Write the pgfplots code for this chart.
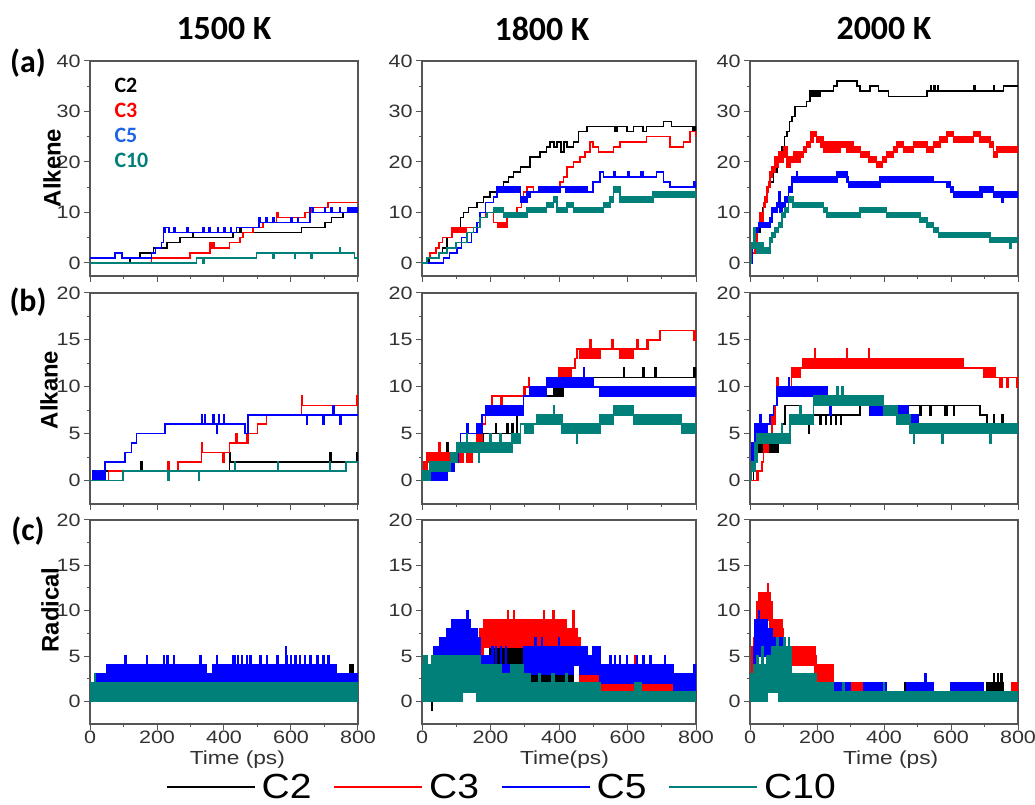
\documentclass[border=0pt]{standalone}
\usepackage{pgfplots}
\pgfplotsset{compat=1.18}
\usepackage{pgfplotstable}
\usepackage{fontspec}
\setmainfont{Liberation Sans}
\newfontfamily\carl{Carlito}
\newfontfamily\tickfont[FakeStretch=1.2]{Liberation Sans}
\newfontfamily\legfont[FakeStretch=1.12]{Liberation Sans}
\definecolor{cR}{RGB}{255,0,0}
\definecolor{cB}{RGB}{0,0,255}
\definecolor{cT}{RGB}{0,128,120}
\definecolor{cLB}{RGB}{30,100,230}
\definecolor{framecol}{RGB}{85,85,85}
\definecolor{tickcol}{RGB}{50,50,50}
\newcommand\ticksz{\tickfont\fontsize{18}{20}\selectfont}
\newcommand\labsz{\tickfont\fontsize{19}{21}\selectfont}
\newcommand\legsz{\legfont\fontsize{35}{40}\selectfont}

% each table: upper envelope (steps), back along a baseline below the axis, lower envelope;
% filled with the even-odd rule so only the band between the two envelopes is coloured
\newcommand\ser[2]{\addplot[const plot, draw=#2, fill=#2, even odd rule, line width=1.6pt] table {#1};}

\pgfplotsset{
  panel/.style={scale only axis, xmin=0, xmax=800, xtick={0,200,400,600,800},
    minor x tick num=1, minor y tick num=1,
    axis line style={draw=framecol, line width=1.2pt},
    tick style={draw=framecol, line width=1pt},
    major tick length=6bp, minor tick length=3.5bp,
    tick align=outside, tick pos=left,
    tick label style={font=\ticksz, text=tickcol},
    xticklabel style={yshift=3bp},
    /pgf/number format/assume math mode=true,
    anchor=south west},
  rowA/.style={ymin=-2.6, ymax=40, ytick={0,10,20,30,40}, height=215bp, xticklabels={}},
  rowB/.style={ymin=-2.5, ymax=20, ytick={0,5,10,15,20}, height=211bp, xticklabels={}},
  rowC/.style={ymin=-2.5, ymax=20, ytick={0,5,10,15,20}, height=204bp,
    xlabel style={font=\labsz, text=tickcol, anchor=center, yshift=-36bp}},
}

% ===== (a) 1500 K alkene
\pgfplotstableread[row sep=\\]{x y\\ -10 -5\\ -10 0\\ 120 1\\ 150 2\\ 189 3\\ 229 4\\ 268 5\\ 306 6\\ 309 5\\ 427 6\\ 447 7\\ 450 6\\ 631 7\\ 701 8\\ 721 9\\ 755 10\\ 800 10\\ 810 10\\ 810 -5\\
 -10 -5\\ -10 0\\ 120 1\\ 150 2\\ 189 3\\ 229 4\\ 268 5\\ 306 6\\ 309 5\\ 427 6\\ 631 7\\ 701 8\\ 721 9\\ 755 10\\ 800 10\\ 810 10\\ 810 -5\\}\AiK
\pgfplotstableread[row sep=\\]{x y\\ -10 -5\\ -10 0\\ 184 1\\ 298 2\\ 358 4\\ 362 3\\ 368 4\\ 372 3\\ 417 4\\ 447 5\\ 457 6\\ 487 7\\ 517 8\\ 557 10\\ 561 9\\ 641 10\\ 660 11\\ 711 12\\ 800 12\\ 810 12\\ 810 -5\\
 -10 -5\\ -10 0\\ 184 1\\ 298 2\\ 358 3\\ 417 4\\ 447 5\\ 457 6\\ 487 7\\ 517 8\\ 557 9\\ 641 10\\ 660 11\\ 711 12\\ 800 12\\ 810 12\\ 810 -5\\}\AiR
\pgfplotstableread[row sep=\\]{x y\\ -10 -5\\ -10 1\\ 75 2\\ 95 1\\ 184 2\\ 195 3\\ 213 4\\ 219 7\\ 235 6\\ 250 7\\ 253 6\\ 290 7\\ 293 6\\ 338 7\\ 342 6\\ 356 7\\ 360 6\\ 380 7\\ 384 6\\ 400 7\\ 404 6\\ 420 7\\ 423 6\\ 437 7\\ 505 9\\ 509 8\\ 525 9\\ 528 8\\ 545 9\\ 549 8\\ 600 9\\ 603 8\\ 620 9\\ 623 8\\ 656 11\\ 666 10\\ 700 11\\ 703 10\\ 720 11\\ 723 10\\ 745 11\\ 748 10\\ 770 11\\ 800 11\\ 810 11\\ 810 -5\\
 -10 -5\\ -10 1\\ 75 2\\ 95 1\\ 184 2\\ 195 3\\ 213 4\\ 219 6\\ 225 7\\ 235 6\\ 437 7\\ 505 8\\ 656 11\\ 666 10\\ 800 10\\ 810 10\\ 810 -5\\}\AiB
\pgfplotstableread[row sep=\\]{x y\\ -10 -5\\ -10 0\\ 318 1\\ 497 2\\ 745 3\\ 748 2\\ 790 1\\ 800 1\\ 810 1\\ 810 -5\\
 -10 -5\\ -10 0\\ 318 1\\ 338 0\\ 341 1\\ 497 2\\ 547 1\\ 549 2\\ 610 1\\ 612 2\\ 660 1\\ 663 2\\ 790 1\\ 800 1\\ 810 1\\ 810 -5\\}\AiT
% ===== 1800 K alkene
\pgfplotstableread[row sep=\\]{x y\\ -10 -5\\ -10 0\\ 20 1\\ 49 2\\ 60 3\\ 73 5\\ 87 6\\ 100 7\\ 112 9\\ 121 10\\ 136 11\\ 160 12\\ 180 13\\ 199 14\\ 220 15\\ 238 16\\ 253 17\\ 267 18\\ 287 19\\ 316 21\\ 345 22\\ 364 23\\ 374 24\\ 385 23\\ 395 24\\ 405 22\\ 415 24\\ 423 23\\ 442 24\\ 457 26\\ 481 27\\ 564 26\\ 570 27\\ 598 26\\ 617 27\\ 646 26\\ 656 27\\ 705 28\\ 729 27\\ 800 27\\ 810 27\\ 810 -5\\
 -10 -5\\ -10 0\\ 20 1\\ 49 2\\ 60 3\\ 73 5\\ 87 6\\ 100 7\\ 112 9\\ 121 10\\ 136 11\\ 160 12\\ 180 13\\ 199 14\\ 220 15\\ 238 16\\ 253 17\\ 267 18\\ 287 19\\ 316 21\\ 345 22\\ 364 23\\ 374 24\\ 385 23\\ 395 24\\ 405 22\\ 415 24\\ 423 23\\ 442 24\\ 457 26\\ 481 27\\ 564 26\\ 570 27\\ 598 26\\ 617 27\\ 646 26\\ 656 27\\ 705 28\\ 729 27\\ 790 26\\ 800 26\\ 810 26\\ 810 -5\\}\AiiK
\pgfplotstableread[row sep=\\]{x y\\ -10 -5\\ -10 0\\ 15 1\\ 24 2\\ 40 3\\ 49 4\\ 60 5\\ 87 7\\ 160 8\\ 170 9\\ 185 10\\ 209 8\\ 248 10\\ 277 11\\ 290 13\\ 296 14\\ 306 15\\ 326 14\\ 403 16\\ 413 17\\ 423 19\\ 442 20\\ 462 21\\ 476 22\\ 491 24\\ 500 23\\ 515 22\\ 559 23\\ 578 24\\ 656 25\\ 724 23\\ 763 24\\ 782 26\\ 800 26\\ 810 26\\ 810 -5\\
 -10 -5\\ -10 0\\ 15 1\\ 24 2\\ 40 3\\ 49 4\\ 60 5\\ 87 6\\ 130 7\\ 160 8\\ 170 9\\ 185 10\\ 209 8\\ 220 7\\ 248 10\\ 277 11\\ 290 13\\ 296 14\\ 306 15\\ 326 14\\ 403 16\\ 413 17\\ 423 19\\ 442 20\\ 462 21\\ 476 22\\ 491 24\\ 500 23\\ 515 22\\ 559 23\\ 578 24\\ 656 25\\ 724 23\\ 763 24\\ 782 26\\ 800 25\\ 810 25\\ 810 -5\\}\AiiR
\pgfplotstableread[row sep=\\]{x y\\ -10 -5\\ -10 0\\ 63 1\\ 80 2\\ 102 3\\ 115 5\\ 130 4\\ 145 6\\ 160 8\\ 170 10\\ 185 12\\ 209 13\\ 219 15\\ 287 13\\ 306 14\\ 340 15\\ 481 14\\ 500 16\\ 520 18\\ 530 17\\ 560 18\\ 563 17\\ 600 18\\ 604 17\\ 640 18\\ 645 17\\ 685 18\\ 705 16\\ 724 15\\ 795 16\\ 800 16\\ 810 16\\ 810 -5\\
 -10 -5\\ -10 0\\ 63 1\\ 80 2\\ 102 3\\ 115 5\\ 130 4\\ 145 6\\ 160 8\\ 170 10\\ 185 12\\ 209 13\\ 219 14\\ 287 12\\ 306 13\\ 316 14\\ 403 15\\ 420 14\\ 500 16\\ 520 18\\ 530 17\\ 685 18\\ 705 16\\ 724 15\\ 800 15\\ 810 15\\ 810 -5\\}\AiiB
\pgfplotstableread[row sep=\\]{x y\\ -10 -5\\ -10 0\\ 15 1\\ 50 2\\ 73 3\\ 100 4\\ 131 6\\ 150 7\\ 170 9\\ 190 10\\ 209 11\\ 238 10\\ 306 11\\ 364 12\\ 384 13\\ 394 11\\ 423 12\\ 442 11\\ 530 12\\ 549 13\\ 559 15\\ 578 13\\ 675 14\\ 800 14\\ 810 14\\ 810 -5\\
 -10 -5\\ -10 0\\ 15 1\\ 50 2\\ 73 3\\ 100 4\\ 131 6\\ 150 7\\ 170 9\\ 190 10\\ 238 9\\ 306 10\\ 364 11\\ 384 12\\ 394 10\\ 423 11\\ 442 10\\ 530 11\\ 549 12\\ 559 14\\ 578 12\\ 675 13\\ 800 13\\ 810 13\\ 810 -5\\}\AiiT
% ===== 2000 K alkene
\pgfplotstableread[row sep=\\]{x y\\ -10 -5\\ -10 0\\ 8 2\\ 15 4\\ 22 6\\ 30 9\\ 37 11\\ 45 13\\ 52 15\\ 60 16\\ 70 18\\ 80 20\\ 88 22\\ 95 23\\ 103 25\\ 110 26\\ 118 28\\ 125 29\\ 134 31\\ 169 32\\ 179 34\\ 249 35\\ 259 36\\ 319 35\\ 329 34\\ 359 35\\ 383 34\\ 413 33\\ 528 34\\ 540 35\\ 542 34\\ 550 35\\ 552 34\\ 560 35\\ 562 34\\ 667 35\\ 672 34\\ 727 35\\ 730 34\\ 757 35\\ 800 35\\ 810 35\\ 810 -5\\
 -10 -5\\ -10 0\\ 8 2\\ 15 4\\ 22 6\\ 30 9\\ 37 11\\ 45 13\\ 52 15\\ 60 16\\ 70 18\\ 80 20\\ 88 22\\ 95 23\\ 103 25\\ 110 26\\ 118 28\\ 125 29\\ 134 31\\ 169 32\\ 179 33\\ 209 34\\ 249 35\\ 259 36\\ 319 35\\ 329 34\\ 359 35\\ 383 34\\ 413 33\\ 528 34\\ 727 35\\ 730 34\\ 757 35\\ 800 35\\ 810 35\\ 810 -5\\}\AiiiK
\pgfplotstableread[row sep=\\]{x y\\ -10 -5\\ -10 0\\ 8 2\\ 15 4\\ 20 6\\ 25 8\\ 30 10\\ 40 12\\ 45 13\\ 50 15\\ 55 16\\ 60 18\\ 65 19\\ 75 21\\ 85 22\\ 100 23\\ 110 21\\ 130 22\\ 160 23\\ 169 24\\ 180 26\\ 199 25\\ 219 24\\ 309 23\\ 330 22\\ 355 21\\ 378 20\\ 395 21\\ 408 22\\ 428 23\\ 438 24\\ 458 23\\ 488 24\\ 528 23\\ 548 24\\ 568 25\\ 588 26\\ 608 25\\ 667 26\\ 687 25\\ 717 24\\ 727 22\\ 737 23\\ 800 23\\ 810 23\\ 810 -5\\
 -10 -5\\ -10 0\\ 8 2\\ 15 4\\ 20 6\\ 25 7\\ 30 8\\ 40 11\\ 45 12\\ 50 14\\ 55 15\\ 60 17\\ 65 18\\ 75 19\\ 85 20\\ 100 21\\ 110 19\\ 120 20\\ 149 21\\ 160 22\\ 169 23\\ 180 24\\ 189 25\\ 199 24\\ 210 23\\ 219 22\\ 270 23\\ 290 22\\ 330 21\\ 355 20\\ 378 19\\ 395 20\\ 408 21\\ 428 22\\ 438 23\\ 458 22\\ 488 23\\ 528 22\\ 548 23\\ 568 24\\ 588 25\\ 608 24\\ 667 25\\ 687 24\\ 717 23\\ 727 21\\ 737 22\\ 800 22\\ 810 22\\ 810 -5\\}\AiiiR
\pgfplotstableread[row sep=\\]{x y\\ -10 -5\\ -10 0\\ 8 3\\ 15 7\\ 25 8\\ 60 9\\ 65 11\\ 80 12\\ 85 14\\ 90 11\\ 95 12\\ 105 13\\ 115 15\\ 125 17\\ 139 18\\ 142 17\\ 259 18\\ 289 17\\ 294 16\\ 388 17\\ 548 16\\ 598 15\\ 608 14\\ 687 15\\ 727 14\\ 800 14\\ 810 14\\ 810 -5\\
 -10 -5\\ -10 0\\ 8 3\\ 15 6\\ 25 7\\ 60 8\\ 65 10\\ 80 11\\ 85 13\\ 90 10\\ 95 11\\ 105 12\\ 115 14\\ 125 16\\ 259 17\\ 289 16\\ 294 15\\ 388 16\\ 588 15\\ 598 14\\ 608 13\\ 692 14\\ 727 13\\ 752 12\\ 756 13\\ 800 13\\ 810 13\\ 810 -5\\}\AiiiB
\pgfplotstableread[row sep=\\]{x y\\ -10 -5\\ -10 0\\ 5 4\\ 10 7\\ 15 4\\ 40 3\\ 60 5\\ 65 6\\ 75 7\\ 85 8\\ 95 10\\ 105 11\\ 115 13\\ 129 12\\ 219 11\\ 229 10\\ 329 11\\ 408 10\\ 508 9\\ 528 8\\ 548 7\\ 563 6\\ 717 5\\ 800 5\\ 810 5\\ 810 -5\\
 -10 -5\\ -10 0\\ 5 3\\ 10 5\\ 15 3\\ 20 2\\ 60 4\\ 65 5\\ 75 6\\ 85 7\\ 95 9\\ 105 10\\ 115 12\\ 129 11\\ 219 10\\ 229 9\\ 329 10\\ 408 9\\ 508 8\\ 528 7\\ 548 6\\ 563 5\\ 717 4\\ 777 3\\ 780 4\\ 800 4\\ 810 4\\ 810 -5\\}\AiiiT
% ===== (b) 1500 K alkane
\pgfplotstableread[row sep=\\]{x y\\ -10 -5\\ -10 0\\ 10 1\\ 153 2\\ 155 1\\ 417 3\\ 420 2\\ 717 3\\ 720 2\\ 795 3\\ 800 3\\ 810 3\\ 810 -5\\
 -10 -5\\ -10 0\\ 40 1\\ 417 2\\ 800 2\\ 810 2\\ 810 -5\\}\BiK
\pgfplotstableread[row sep=\\]{x y\\ -10 -5\\ -10 0\\ 20 1\\ 25 0\\ 55 1\\ 233 2\\ 235 1\\ 263 2\\ 333 4\\ 336 3\\ 417 4\\ 436 5\\ 438 4\\ 468 5\\ 470 4\\ 472 5\\ 500 6\\ 527 7\\ 631 9\\ 634 8\\ 795 9\\ 800 9\\ 810 9\\ 810 -5\\
 -10 -5\\ -10 0\\ 55 1\\ 263 2\\ 333 3\\ 397 2\\ 400 3\\ 417 4\\ 472 5\\ 500 6\\ 527 7\\ 631 8\\ 800 8\\ 810 8\\ 810 -5\\}\BiR
\pgfplotstableread[row sep=\\]{x y\\ -10 -5\\ -10 0\\ 8 1\\ 45 2\\ 104 3\\ 124 4\\ 139 5\\ 224 6\\ 333 7\\ 335 6\\ 343 7\\ 345 6\\ 368 7\\ 370 6\\ 383 7\\ 385 6\\ 398 7\\ 400 6\\ 462 5\\ 472 7\\ 726 8\\ 728 7\\ 800 7\\ 810 7\\ 810 -5\\
 -10 -5\\ -10 0\\ 45 2\\ 104 3\\ 124 4\\ 139 5\\ 224 6\\ 378 5\\ 380 6\\ 462 5\\ 472 7\\ 646 6\\ 648 7\\ 696 6\\ 698 7\\ 746 6\\ 750 7\\ 800 7\\ 810 7\\ 810 -5\\}\BiB
\pgfplotstableread[row sep=\\]{x y\\ -10 -5\\ -10 0\\ 99 1\\ 431 2\\ 433 1\\ 561 2\\ 563 1\\ 716 2\\ 718 1\\ 765 2\\ 800 2\\ 810 2\\ 810 -5\\
 -10 -5\\ -10 0\\ 99 1\\ 233 0\\ 236 1\\ 325 0\\ 327 1\\ 765 2\\ 800 2\\ 810 2\\ 810 -5\\}\BiT
% ===== 1800 K alkane
\pgfplotstableread[row sep=\\]{x y\\ -10 -5\\ -10 1\\ 24 3\\ 73 4\\ 76 3\\ 141 4\\ 180 5\\ 214 6\\ 217 5\\ 248 6\\ 251 5\\ 262 6\\ 265 5\\ 277 7\\ 287 8\\ 296 9\\ 384 10\\ 462 11\\ 588 12\\ 591 11\\ 646 12\\ 649 11\\ 680 12\\ 683 11\\ 795 12\\ 800 12\\ 810 12\\ 810 -5\\
 -10 -5\\ -10 0\\ 24 2\\ 73 3\\ 141 4\\ 180 5\\ 277 7\\ 287 8\\ 296 9\\ 413 10\\ 462 11\\ 800 11\\ 810 11\\ 810 -5\\}\BiiK
\pgfplotstableread[row sep=\\]{x y\\ -10 -5\\ -10 0\\ 5 2\\ 15 3\\ 49 4\\ 52 3\\ 160 5\\ 175 6\\ 185 7\\ 199 8\\ 204 9\\ 296 10\\ 311 11\\ 313 10\\ 369 11\\ 398 12\\ 447 13\\ 452 14\\ 491 15\\ 494 14\\ 554 15\\ 557 14\\ 627 15\\ 630 14\\ 656 15\\ 695 16\\ 800 16\\ 810 16\\ 810 -5\\
 -10 -5\\ -10 0\\ 5 1\\ 15 2\\ 121 3\\ 131 2\\ 146 3\\ 160 4\\ 175 6\\ 185 7\\ 199 8\\ 204 9\\ 230 8\\ 233 9\\ 301 10\\ 369 11\\ 437 12\\ 447 13\\ 452 14\\ 462 13\\ 520 14\\ 578 13\\ 617 14\\ 661 15\\ 695 16\\ 795 15\\ 800 15\\ 810 15\\ 810 -5\\}\BiiR
\pgfplotstableread[row sep=\\]{x y\\ -10 -5\\ -10 1\\ 73 2\\ 95 3\\ 105 4\\ 112 5\\ 131 6\\ 135 5\\ 160 6\\ 175 7\\ 185 8\\ 296 9\\ 316 10\\ 364 11\\ 471 12\\ 474 11\\ 500 10\\ 800 10\\ 810 10\\ 810 -5\\
 -10 -5\\ -10 0\\ 73 1\\ 95 2\\ 105 4\\ 112 5\\ 175 7\\ 296 9\\ 364 10\\ 520 9\\ 800 9\\ 810 9\\ 810 -5\\}\BiiB
\pgfplotstableread[row sep=\\]{x y\\ -10 -5\\ -10 1\\ 24 2\\ 83 3\\ 102 4\\ 131 5\\ 133 4\\ 199 5\\ 201 4\\ 228 5\\ 230 4\\ 262 5\\ 287 6\\ 335 7\\ 384 8\\ 386 7\\ 408 6\\ 520 7\\ 559 8\\ 617 7\\ 758 6\\ 800 6\\ 810 6\\ 810 -5\\
 -10 -5\\ -10 0\\ 24 1\\ 83 2\\ 102 3\\ 165 2\\ 167 3\\ 262 4\\ 287 6\\ 300 5\\ 326 6\\ 408 5\\ 452 4\\ 454 5\\ 520 6\\ 559 7\\ 617 6\\ 758 5\\ 800 5\\ 810 5\\ 810 -5\\}\BiiT
% ===== 2000 K alkane
\pgfplotstableread[row sep=\\]{x y\\ -10 -5\\ -10 0\\ 10 2\\ 15 4\\ 85 5\\ 95 6\\ 105 8\\ 149 7\\ 329 8\\ 687 7\\ 707 6\\ 727 7\\ 730 6\\ 752 7\\ 755 6\\ 800 6\\ 810 6\\ 810 -5\\
 -10 -5\\ -10 0\\ 10 2\\ 15 3\\ 85 4\\ 95 6\\ 105 8\\ 149 7\\ 160 6\\ 163 7\\ 175 5\\ 178 7\\ 209 6\\ 212 7\\ 225 6\\ 228 7\\ 240 6\\ 243 7\\ 255 6\\ 258 7\\ 270 6\\ 273 7\\ 329 8\\ 508 7\\ 511 8\\ 538 7\\ 541 8\\ 580 7\\ 588 8\\ 608 7\\ 611 8\\ 687 7\\ 707 6\\ 800 6\\ 810 6\\ 810 -5\\}\BiiiK
\pgfplotstableread[row sep=\\]{x y\\ -10 -5\\ -10 0\\ 20 1\\ 35 2\\ 40 4\\ 55 5\\ 65 7\\ 75 8\\ 80 11\\ 83 9\\ 85 10\\ 124 12\\ 159 13\\ 194 14\\ 196 13\\ 289 14\\ 291 13\\ 354 14\\ 356 13\\ 637 12\\ 732 11\\ 800 10\\ 810 10\\ 810 -5\\
 -10 -5\\ -10 0\\ 25 1\\ 35 2\\ 40 3\\ 55 5\\ 65 6\\ 75 8\\ 80 9\\ 115 10\\ 124 11\\ 149 12\\ 697 11\\ 747 10\\ 752 11\\ 767 10\\ 772 11\\ 795 10\\ 800 10\\ 810 10\\ 810 -5\\}\BiiiR
\pgfplotstableread[row sep=\\]{x y\\ -10 -5\\ -10 0\\ 5 4\\ 15 6\\ 30 7\\ 33 6\\ 60 7\\ 70 8\\ 80 10\\ 115 11\\ 118 10\\ 229 8\\ 473 7\\ 503 6\\ 800 6\\ 810 6\\ 810 -5\\
 -10 -5\\ -10 0\\ 5 2\\ 15 5\\ 50 6\\ 60 7\\ 70 8\\ 80 9\\ 229 8\\ 239 7\\ 242 8\\ 359 7\\ 398 8\\ 438 7\\ 473 6\\ 503 5\\ 800 5\\ 810 5\\ 810 -5\\}\BiiiB
\pgfplotstableread[row sep=\\]{x y\\ -10 -5\\ -10 0\\ 5 2\\ 15 4\\ 20 5\\ 94 6\\ 97 5\\ 120 7\\ 149 8\\ 152 7\\ 189 9\\ 259 10\\ 262 9\\ 274 10\\ 277 9\\ 398 8\\ 438 7\\ 478 6\\ 800 6\\ 810 6\\ 810 -5\\
 -10 -5\\ -10 0\\ 5 1\\ 15 2\\ 20 4\\ 120 6\\ 189 8\\ 398 7\\ 438 6\\ 478 5\\ 488 4\\ 491 5\\ 573 4\\ 576 5\\ 717 4\\ 720 5\\ 800 5\\ 810 5\\ 810 -5\\}\BiiiT
% ===== (c) 1500 K radical
\pgfplotstableread[row sep=\\]{x y\\ -10 -5\\ -10 2\\ 691 3\\ 694 2\\ 775 4\\ 785 2\\ 800 2\\ 810 2\\ 810 -5\\
 -10 -5\\ -10 0\\ 800 0\\ 810 0\\ 810 -5\\}\CiK
\pgfplotstableread[row sep=\\]{x y\\ -10 -5\\ -10 2\\ 413 4\\ 415 2\\ 676 5\\ 679 2\\ 800 2\\ 810 2\\ 810 -5\\
 -10 -5\\ -10 0\\ 800 0\\ 810 0\\ 810 -5\\}\CiR
\pgfplotstableread[row sep=\\]{x y\\ -10 -5\\ -10 2\\ 15 3\\ 50 4\\ 104 5\\ 107 4\\ 169 5\\ 172 4\\ 219 5\\ 222 4\\ 229 5\\ 232 4\\ 249 5\\ 252 4\\ 328 5\\ 331 4\\ 348 3\\ 368 4\\ 378 5\\ 381 4\\ 427 5\\ 433 4\\ 440 5\\ 443 4\\ 452 5\\ 455 4\\ 467 5\\ 470 4\\ 478 5\\ 481 4\\ 507 5\\ 510 4\\ 527 5\\ 530 4\\ 557 5\\ 562 4\\ 584 6\\ 587 5\\ 590 4\\ 598 5\\ 601 4\\ 612 5\\ 615 4\\ 625 5\\ 628 4\\ 640 5\\ 643 4\\ 656 5\\ 659 4\\ 676 5\\ 680 4\\ 696 5\\ 699 4\\ 711 5\\ 714 4\\ 736 3\\ 800 3\\ 810 3\\ 810 -5\\
 -10 -5\\ -10 1\\ 15 2\\ 20 1\\ 22 2\\ 154 1\\ 156 2\\ 199 1\\ 201 2\\ 298 1\\ 300 2\\ 323 1\\ 325 2\\ 427 1\\ 430 2\\ 467 1\\ 469 2\\ 517 1\\ 519 2\\ 736 1\\ 738 2\\ 795 1\\ 800 2\\ 810 2\\ 810 -5\\}\CiB
\pgfplotstableread[row sep=\\]{x y\\ -10 -5\\ -10 2\\ 15 3\\ 17 2\\ 114 1\\ 116 2\\ 154 1\\ 156 2\\ 199 1\\ 201 2\\ 234 1\\ 236 2\\ 298 1\\ 300 2\\ 323 1\\ 325 2\\ 388 1\\ 392 2\\ 398 1\\ 402 2\\ 406 1\\ 409 2\\ 427 1\\ 429 2\\ 467 1\\ 469 2\\ 487 1\\ 489 2\\ 517 1\\ 519 2\\ 656 1\\ 658 2\\ 664 1\\ 667 2\\ 674 1\\ 676 2\\ 736 1\\ 738 2\\ 795 1\\ 797 2\\ 800 2\\ 810 2\\ 810 -5\\
 -10 -5\\ -10 0\\ 800 0\\ 810 0\\ 810 -5\\}\CiT
% ===== 1800 K radical
\pgfplotstableread[row sep=\\]{x y\\ -10 -5\\ -10 1\\ 92 2\\ 141 3\\ 170 5\\ 199 6\\ 296 3\\ 442 2\\ 637 1\\ 720 2\\ 723 1\\ 800 1\\ 810 1\\ 810 -5\\
 -10 -5\\ -10 0\\ 29 -1\\ 31 0\\ 92 1\\ 170 2\\ 199 4\\ 296 2\\ 442 1\\ 637 0\\ 800 0\\ 810 0\\ 810 -5\\}\CiiK
\pgfplotstableread[row sep=\\]{x y\\ -10 -5\\ -10 2\\ 10 3\\ 49 5\\ 52 2\\ 170 8\\ 180 9\\ 250 10\\ 252 9\\ 267 10\\ 269 9\\ 355 10\\ 357 9\\ 383 10\\ 385 9\\ 420 8\\ 441 10\\ 443 8\\ 452 7\\ 462 3\\ 515 2\\ 549 5\\ 551 2\\ 620 5\\ 622 2\\ 744 1\\ 800 1\\ 810 1\\ 810 -5\\
 -10 -5\\ -10 0\\ 117 1\\ 160 0\\ 170 5\\ 180 6\\ 452 5\\ 462 2\\ 515 1\\ 744 0\\ 800 0\\ 810 0\\ 810 -5\\}\CiiR
\pgfplotstableread[row sep=\\]{x y\\ -10 -5\\ -10 3\\ 5 5\\ 8 3\\ 20 4\\ 34 6\\ 53 7\\ 73 8\\ 87 9\\ 131 10\\ 136 9\\ 141 8\\ 160 7\\ 170 5\\ 199 4\\ 205 6\\ 207 4\\ 215 6\\ 217 4\\ 230 6\\ 232 4\\ 245 6\\ 247 4\\ 296 6\\ 330 7\\ 332 6\\ 350 7\\ 352 6\\ 400 7\\ 402 6\\ 481 5\\ 500 6\\ 520 4\\ 549 5\\ 551 4\\ 563 5\\ 565 4\\ 578 5\\ 580 4\\ 598 5\\ 600 4\\ 627 5\\ 629 4\\ 646 5\\ 648 4\\ 666 5\\ 668 4\\ 709 5\\ 711 4\\ 734 3\\ 795 4\\ 800 3\\ 810 3\\ 810 -5\\
 -10 -5\\ -10 0\\ 20 2\\ 34 3\\ 442 4\\ 462 3\\ 520 2\\ 734 1\\ 800 1\\ 810 1\\ 810 -5\\}\CiiB
\pgfplotstableread[row sep=\\]{x y\\ -10 -5\\ -10 4\\ 5 5\\ 15 4\\ 29 5\\ 170 4\\ 230 3\\ 260 4\\ 296 3\\ 316 2\\ 340 3\\ 345 2\\ 380 3\\ 385 2\\ 420 3\\ 425 2\\ 520 1\\ 620 2\\ 640 1\\ 800 1\\ 810 1\\ 810 -5\\
 -10 -5\\ -10 0\\ 117 1\\ 160 0\\ 800 0\\ 810 0\\ 810 -5\\}\CiiT
% ===== 2000 K radical
\pgfplotstableread[row sep=\\]{x y\\ -10 -5\\ -10 2\\ 120 3\\ 144 2\\ 219 4\\ 221 2\\ 408 1\\ 463 2\\ 498 1\\ 538 2\\ 541 1\\ 707 2\\ 727 3\\ 729 2\\ 740 3\\ 742 2\\ 750 3\\ 752 2\\ 757 1\\ 800 1\\ 810 1\\ 810 -5\\
 -10 -5\\ -10 0\\ 50 1\\ 85 0\\ 134 1\\ 144 0\\ 249 1\\ 408 0\\ 463 1\\ 498 0\\ 538 1\\ 541 0\\ 707 1\\ 757 0\\ 800 0\\ 810 0\\ 810 -5\\}\CiiiK
\pgfplotstableread[row sep=\\]{x y\\ -10 -5\\ -10 3\\ 5 6\\ 10 7\\ 15 9\\ 20 11\\ 25 12\\ 52 13\\ 55 12\\ 60 11\\ 65 9\\ 95 8\\ 100 7\\ 105 6\\ 194 5\\ 199 4\\ 249 2\\ 390 1\\ 647 2\\ 657 1\\ 782 2\\ 800 2\\ 810 2\\ 810 -5\\
 -10 -5\\ -10 0\\ 5 3\\ 10 4\\ 15 6\\ 20 8\\ 25 9\\ 60 8\\ 65 7\\ 95 6\\ 100 5\\ 105 4\\ 194 3\\ 199 2\\ 249 1\\ 390 0\\ 647 1\\ 657 0\\ 800 0\\ 810 0\\ 810 -5\\}\CiiiR
\pgfplotstableread[row sep=\\]{x y\\ -10 -5\\ -10 3\\ 10 6\\ 15 9\\ 25 10\\ 28 9\\ 50 8\\ 65 7\\ 95 4\\ 105 3\\ 149 2\\ 169 1\\ 179 2\\ 299 1\\ 339 2\\ 408 1\\ 468 2\\ 523 3\\ 526 2\\ 548 1\\ 598 2\\ 697 1\\ 800 1\\ 810 1\\ 810 -5\\
 -10 -5\\ -10 0\\ 10 3\\ 15 5\\ 65 4\\ 95 2\\ 105 1\\ 114 0\\ 149 1\\ 169 0\\ 179 1\\ 299 0\\ 339 1\\ 408 0\\ 468 1\\ 548 0\\ 598 1\\ 697 0\\ 800 0\\ 810 0\\ 810 -5\\}\CiiiB
\pgfplotstableread[row sep=\\]{x y\\ -10 -5\\ -10 3\\ 10 4\\ 20 5\\ 23 4\\ 35 6\\ 38 4\\ 50 5\\ 65 6\\ 80 7\\ 85 6\\ 100 7\\ 105 6\\ 115 7\\ 118 6\\ 124 3\\ 199 2\\ 249 1\\ 278 2\\ 280 1\\ 398 2\\ 400 1\\ 800 1\\ 810 1\\ 810 -5\\
 -10 -5\\ -10 0\\ 50 1\\ 85 0\\ 800 0\\ 810 0\\ 810 -5\\}\CiiiT

\begin{document}
\begin{tikzpicture}
\path[use as bounding box] (0bp,0bp) rectangle (1035bp,805bp);

% row A
\begin{axis}[panel, rowA, at={(90bp,529bp)}, width=268bp]
\ser{\AiK}{black}\ser{\AiR}{cR}\ser{\AiB}{cB}\ser{\AiT}{cT}
\end{axis}
\begin{axis}[panel, rowA, at={(422bp,529bp)}, width=274bp]
\ser{\AiiK}{black}\ser{\AiiR}{cR}\ser{\AiiB}{cB}\ser{\AiiT}{cT}
\end{axis}
\begin{axis}[panel, rowA, at={(750bp,529bp)}, width=268bp]
\ser{\AiiiK}{black}\ser{\AiiiR}{cR}\ser{\AiiiB}{cB}\ser{\AiiiT}{cT}
\end{axis}
% row B
\begin{axis}[panel, rowB, at={(90bp,301bp)}, width=268bp]
\ser{\BiK}{black}\ser{\BiR}{cR}\ser{\BiB}{cB}\ser{\BiT}{cT}
\end{axis}
\begin{axis}[panel, rowB, at={(422bp,301bp)}, width=274bp]
\ser{\BiiK}{black}\ser{\BiiR}{cR}\ser{\BiiB}{cB}\ser{\BiiT}{cT}
\end{axis}
\begin{axis}[panel, rowB, at={(750bp,301bp)}, width=268bp]
\ser{\BiiiK}{black}\ser{\BiiiR}{cR}\ser{\BiiiB}{cB}\ser{\BiiiT}{cT}
\end{axis}
% row C
\begin{axis}[panel, rowC, at={(90bp,81bp)}, width=268bp, xlabel={Time (ps)},
  xlabel style={at={(axis description cs:0.55,0)}}]
\ser{\CiK}{black}\ser{\CiR}{cR}\ser{\CiB}{cB}\ser{\CiT}{cT}
\end{axis}
\begin{axis}[panel, rowC, at={(422bp,81bp)}, width=274bp, xlabel={Time(ps)},
  xlabel style={at={(axis description cs:0.52,0)}}]
\ser{\CiiK}{black}\ser{\CiiR}{cR}\ser{\CiiB}{cB}\ser{\CiiT}{cT}
\end{axis}
\begin{axis}[panel, rowC, at={(750bp,81bp)}, width=268bp, xlabel={Time (ps)},
  xlabel style={at={(axis description cs:0.525,0)}}]
\ser{\CiiiK}{black}\ser{\CiiiR}{cR}\ser{\CiiiB}{cB}\ser{\CiiiT}{cT}
\end{axis}

% bottom legend
\begin{axis}[at={(502bp,18bp)}, anchor=center, hide axis, scale only axis,
  width=20bp, height=10bp, xmin=0, xmax=1, ymin=0, ymax=1,
  legend columns=4,
  legend style={draw=none, fill=none, at={(0.5,0.5)}, anchor=center, font=\legsz,
    /tikz/every even column/.append style={column sep=20bp},
    /tikz/every odd column/.append style={column sep=4bp}},
  legend image code/.code={\draw[#1] (0bp,0bp) -- (88bp,0bp);}]
\addplot[draw=none, forget plot] coordinates {(0,0) (1,1)};
\addlegendimage{black, line width=1.6pt}\addlegendentry{C2}
\addlegendimage{cR, line width=1.6pt}\addlegendentry{C3}
\addlegendimage{cB, line width=1.6pt}\addlegendentry{C5}
\addlegendimage{cT, line width=1.6pt}\addlegendentry{C10}
\end{axis}

% titles and labels
\node[font=\carl\bfseries\fontsize{34}{36}\selectfont] at (224bp,776bp) {1500 K};
\node[font=\carl\bfseries\fontsize{34}{36}\selectfont] at (542bp,776bp) {1800 K};
\node[font=\carl\bfseries\fontsize{34}{36}\selectfont] at (884bp,776bp) {2000 K};
\node[font=\carl\bfseries\fontsize{32}{34}\selectfont] at (28bp,742bp) {(a)};
\node[font=\carl\bfseries\fontsize{32}{34}\selectfont] at (28bp,503bp) {(b)};
\node[font=\carl\bfseries\fontsize{32}{34}\selectfont] at (28bp,274bp) {(c)};
\node[rotate=90, font=\bfseries\fontsize{24}{26}\selectfont] at (52bp,637bp) {Alkene};
\node[rotate=90, font=\bfseries\fontsize{24}{26}\selectfont] at (49bp,415bp) {Alkane};
\node[rotate=90, font=\bfseries\fontsize{24}{26}\selectfont] at (50bp,195bp) {Radical};
\node[anchor=west, font=\carl\bfseries\fontsize{22}{24}\selectfont, text=black] at (111bp,720bp) {C2};
\node[anchor=west, font=\carl\bfseries\fontsize{22}{24}\selectfont, text=cR] at (111bp,695bp) {C3};
\node[anchor=west, font=\carl\bfseries\fontsize{22}{24}\selectfont, text=cLB] at (111bp,670bp) {C5};
\node[anchor=west, font=\carl\bfseries\fontsize{22}{24}\selectfont, text=cT] at (111bp,645bp) {C10};
\end{tikzpicture}
\end{document}
